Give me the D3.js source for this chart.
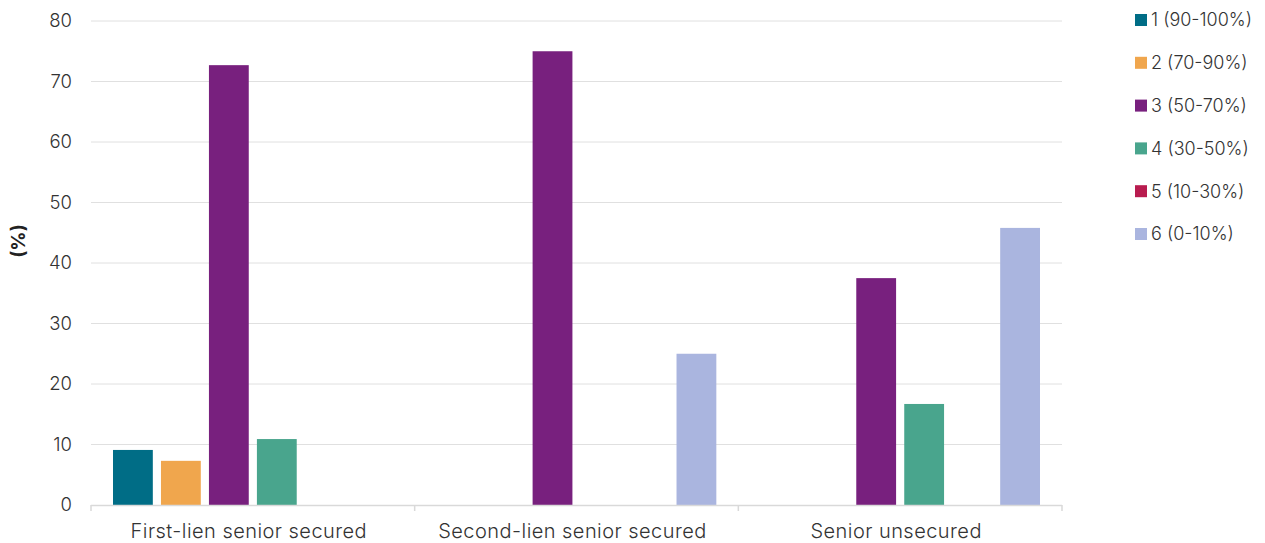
<!DOCTYPE html>
<html>
<head>
<meta charset="utf-8">
<script src="https://cdn.jsdelivr.net/npm/d3@7/dist/d3.min.js"></script>
<style>
  html, body { margin: 0; padding: 0; background: #fff; }
  svg text { font-family: Inter, "Open Sans", sans-serif; }
</style>
</head>
<body>
<svg id="chart" width="1265" height="543"></svg>
<script>
// Recovery rating buckets by debt class
const categories = ["First-lien senior secured", "Second-lien senior secured", "Senior unsecured"];
const seriesNames = ["1 (90-100%)", "2 (70-90%)", "3 (50-70%)", "4 (30-50%)", "5 (10-30%)", "6 (0-10%)"];
const seriesColors = ["#006d86", "#f0a64d", "#78207e", "#49a58d", "#b81c4f", "#aab5df"];
const firstLien = [9.1, 7.3, 72.7, 10.9, 0, 0];
const secondLien = [0, 0, 75.0, 0, 0, 25.0];
const seniorUnsecured = [0, 0, 37.5, 16.7, 0, 45.8];
const yTicks = [0, 10, 20, 30, 40, 50, 60, 70, 80];

const values = [firstLien, secondLien, seniorUnsecured];

const svg = d3.select("#chart");
const margin = { left: 91, right: 203, top: 21, bottom: 38 };
const W = 1265, H = 543;
const plotW = W - margin.left - margin.right;
const plotH = H - margin.top - margin.bottom;

const g = svg.append("g").attr("transform", `translate(${margin.left},${margin.top})`);

const x0 = d3.scaleBand().domain(categories).range([0, plotW]).paddingInner(0).paddingOuter(0);
const x1 = d3.scaleBand().domain(seriesNames).range([22, x0.bandwidth() - 22]).paddingInner(0.17).paddingOuter(0);
const y = d3.scaleLinear().domain([0, 80]).range([plotH, 0]);

// horizontal gridlines
g.append("g").selectAll("line").data(yTicks.filter(d => d > 0)).join("line")
  .attr("x1", 0).attr("x2", plotW)
  .attr("y1", d => y(d)).attr("y2", d => y(d))
  .attr("stroke", "#e0e0e0").attr("stroke-width", 1);

// y axis labels
const yAxis = d3.axisLeft(y).tickValues(yTicks).tickSize(0).tickPadding(19);
const ya = g.append("g").call(yAxis);
ya.select(".domain").remove();
ya.selectAll("text").attr("font-size", 18.5).attr("font-weight", 300).attr("fill", "#333")
  .style("font-family", "Inter, sans-serif");

// bars
const groups = g.append("g").selectAll("g").data(categories).join("g")
  .attr("transform", d => `translate(${x0(d)},0)`);
groups.selectAll("rect")
  .data((c, i) => seriesNames.map((s, j) => ({ s, v: values[i][j], color: seriesColors[j] })).filter(d => d.v > 0))
  .join("rect")
  .attr("x", d => x1(d.s))
  .attr("width", x1.bandwidth())
  .attr("y", d => y(d.v))
  .attr("height", d => plotH - y(d.v))
  .attr("fill", d => d.color);

// x axis with category dividers
const xa = g.append("g").attr("transform", `translate(0,${plotH})`);
xa.append("line").attr("x1", 0).attr("x2", plotW).attr("y1", 0.5).attr("y2", 0.5)
  .attr("stroke", "#d9d9d9").attr("stroke-width", 1.5);
const dividers = categories.map(c => x0(c)).concat([plotW]);
xa.selectAll("line.div").data(dividers).join("line").attr("class", "div")
  .attr("x1", d => d).attr("x2", d => d).attr("y1", 0).attr("y2", 6)
  .attr("stroke", "#d9d9d9").attr("stroke-width", 1.5);
xa.selectAll("text").data(categories).join("text")
  .attr("x", d => x0(d) + x0.bandwidth() / 2 - 4)
  .attr("y", 33)
  .attr("text-anchor", "middle")
  .attr("font-size", 20).attr("font-weight", 300).attr("letter-spacing", 0.45).attr("fill", "#333")
  .text(d => d);

// y axis title
svg.append("text")
  .attr("transform", "translate(25,241) rotate(-90)")
  .attr("text-anchor", "middle")
  .attr("font-size", 19).attr("font-weight", 700).attr("fill", "#222")
  .text("(%)");

// legend
const lg = svg.append("g").attr("transform", "translate(1135,20)");
const items = lg.selectAll("g").data(seriesNames).join("g")
  .attr("transform", (d, i) => `translate(0,${i * 42.8})`);
items.append("rect").attr("x", 0).attr("y", -6).attr("width", 12).attr("height", 12)
  .attr("fill", (d, i) => seriesColors[i]);
items.append("text").attr("x", 16).attr("y", 0).attr("dy", "0.35em")
  .attr("font-size", 18).attr("font-weight", 300).attr("fill", "#333").text(d => d);
</script>
</body>
</html>
